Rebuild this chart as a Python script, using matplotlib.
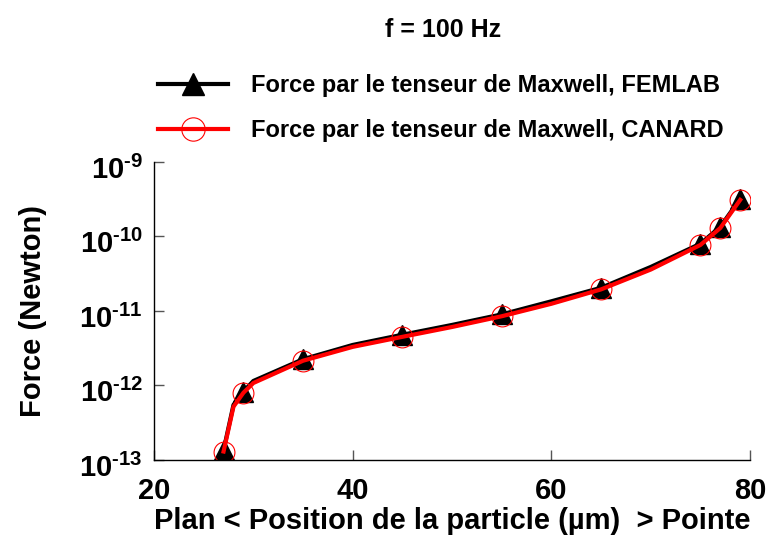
import matplotlib
matplotlib.use("Agg")
import matplotlib.pyplot as plt
import matplotlib.transforms as mtransforms

plt.rcParams['font.family'] = ['Liberation Sans', 'DejaVu Sans']
plt.rcParams['font.weight'] = 'bold'
plt.rcParams['mathtext.fontset'] = 'custom'
plt.rcParams['mathtext.rm'] = 'Liberation Sans:bold'
plt.rcParams['mathtext.bf'] = 'Liberation Sans:bold'
plt.rcParams['mathtext.it'] = 'Liberation Sans:bold'

# Data
x_pos = [27, 28, 29, 30, 35, 40, 45, 50, 55, 60, 65, 70, 75, 77, 79]
force_femlab = [1.35e-13, 5.5e-13, 8.3e-13, 1.15e-12, 2.25e-12, 3.5e-12, 4.8e-12,
                6.5e-12, 9.0e-12, 1.35e-11, 2.05e-11, 3.9e-11, 8.0e-11, 1.35e-10, 3.2e-10]
force_canard = [1.30e-13, 5.2e-13, 8.0e-13, 1.08e-12, 2.15e-12, 3.3e-12, 4.5e-12,
                6.1e-12, 8.5e-12, 1.25e-11, 1.95e-11, 3.6e-11, 7.7e-11, 1.3e-10, 3.1e-10]
marker_idx = [0, 2, 4, 6, 8, 10, 12, 13, 14]
label_femlab = "Force par le tenseur de Maxwell, FEMLAB"
label_canard = "Force par le tenseur de Maxwell, CANARD"
x_ticks = [20, 40, 60, 80]
y_ticks = [1e-13, 1e-12, 1e-11, 1e-10, 1e-9]
y_ticklabels = [r'$10^{\text{-13}}$', r'$10^{\text{-12}}$', r'$10^{\text{-11}}$',
                r'$10^{\text{-10}}$', r'$10^{\text{-9}}$']

fig = plt.figure(figsize=(7.67, 5.36), dpi=100)
ax = fig.add_axes([0.2008, 0.1418, 0.7772, 0.556])

ax.plot(x_pos, force_femlab, color='black', lw=3, marker='^', markersize=14,
        markerfacecolor='black', markeredgecolor='black', markevery=marker_idx,
        label=label_femlab)
ax.plot(x_pos, force_canard, color='red', lw=3, marker='o', markersize=15,
        markerfacecolor='none', markeredgecolor='red', markeredgewidth=0.8,
        markevery=marker_idx, label=label_canard)

ax.set_yscale('log')
ax.set_xlim(20, 80)
ax.set_ylim(1e-13, 1e-9)
ax.set_xticks(x_ticks)
ax.set_xticklabels([str(t) for t in x_ticks], fontsize=21, fontweight='bold')
ax.set_yticks(y_ticks)
ax.set_yticklabels(y_ticklabels, fontsize=21)
ax.yaxis.set_minor_locator(matplotlib.ticker.NullLocator())
ax.tick_params(direction='in', length=7, width=1, color='#555555')
ax.tick_params(axis='x', pad=12)
ax.tick_params(axis='y', pad=8)

offset = mtransforms.ScaledTranslation(0, -0.05, fig.dpi_scale_trans)
for lab in ax.get_yticklabels():
    lab.set_transform(lab.get_transform() + offset)

for s in ['top', 'right']:
    ax.spines[s].set_visible(False)
for s in ['left', 'bottom']:
    ax.spines[s].set_linewidth(1)

ax.set_xlabel("Plan < Position de la particle (µm)  > Pointe", fontsize=21,
              fontweight='bold', labelpad=2)
ax.set_ylabel("Force (Newton)", fontsize=21, fontweight='bold')
ax.yaxis.set_label_coords(-0.18, 0.5)

fig.text(0.578, 0.944, "f = 100 Hz", ha='center', va='center', fontsize=18,
         fontweight='bold')

leg = fig.legend(loc='upper left', bbox_to_anchor=(158 / 767, 0.862), frameon=False,
                 handlelength=2.95, handletextpad=1.0, labelspacing=0.95,
                 borderpad=0, borderaxespad=0, markerscale=1.12,
                 prop={'weight': 'bold', 'size': 17})

fig.savefig("out.png", dpi=100)
